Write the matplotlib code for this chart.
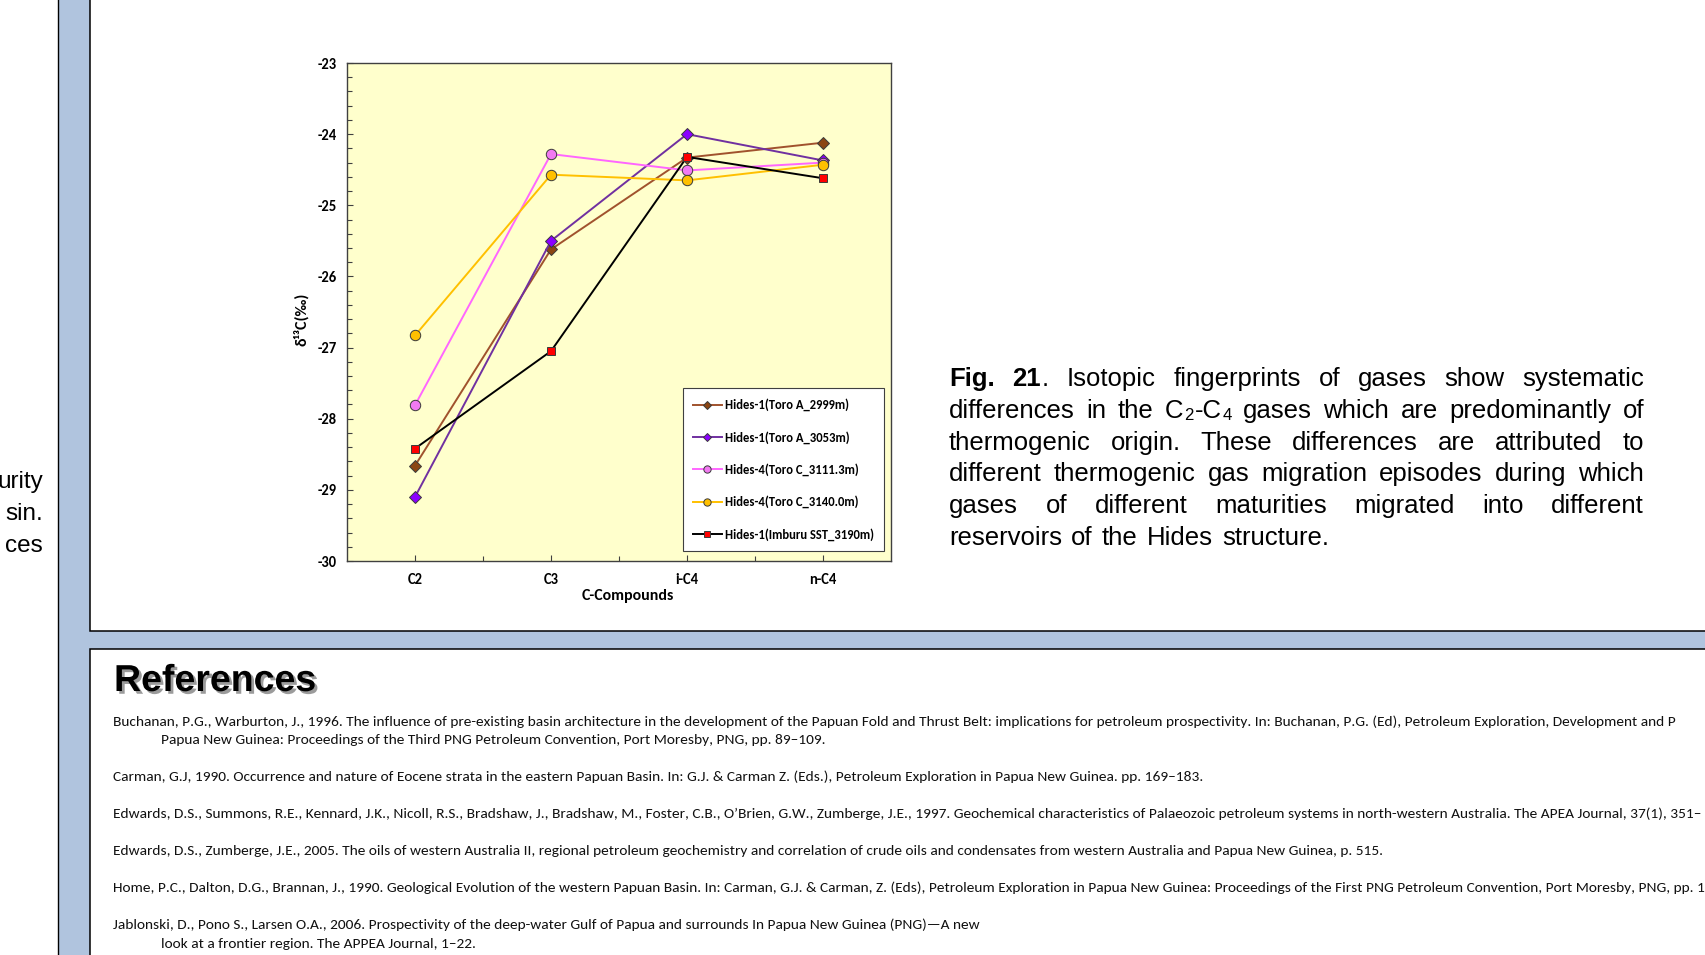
import matplotlib
matplotlib.use("Agg")
import matplotlib.pyplot as plt
import matplotlib.patheffects as pe
from matplotlib import font_manager as fm
from matplotlib.patches import Rectangle
from matplotlib.ticker import FixedLocator, MultipleLocator

W, H = 1705, 955  # canvas size in pixels

# gas isotope data, delta 13C (permil)
compounds = ['C2', 'C3', 'i-C4', 'n-C4']
series_labels = ['Hides-1(Toro A_2999m)', 'Hides-1(Toro A_3053m)',
                 'Hides-4(Toro C_3111.3m)', 'Hides-4(Toro C_3140.0m)',
                 'Hides-1(Imburu SST_3190m)']
toro_a_2999 = [-28.66, -25.62, -24.33, -24.12]
toro_a_3053 = [-29.10, -25.50, -24.00, -24.37]
toro_c_3111 = [-27.81, -24.28, -24.51, -24.40]
toro_c_3140 = [-26.83, -24.57, -24.65, -24.43]
imburu_3190 = [-28.42, -27.05, -24.32, -24.62]
yticks = [-30, -29, -28, -27, -26, -25, -24, -23]

left_words = ['urity', 'sin.', 'ces']

references = [
    ("Buchanan, P.G., Warburton, J., 1996. The influence of pre-existing basin architecture in the development of the "
     "Papuan Fold and Thrust Belt: implications for petroleum prospectivity. In: Buchanan, P.G. (Ed), Petroleum "
     "Exploration, Development and P", False),
    ("Papua New Guinea: Proceedings of the Third PNG Petroleum Convention, Port Moresby, PNG, pp. 89\u2013109.", True),
    ("Carman, G.J, 1990. Occurrence and nature of Eocene strata in the eastern Papuan Basin. In: G.J. & Carman Z. (Eds.), "
     "Petroleum Exploration in Papua New Guinea. pp. 169\u2013183.", False),
    ("Edwards, D.S., Summons, R.E., Kennard, J.K., Nicoll, R.S., Bradshaw, J., Bradshaw, M., Foster, C.B., O\u2019Brien, G.W., "
     "Zumberge, J.E., 1997. Geochemical characteristics of Palaeozoic petroleum systems in north-western Australia. "
     "The APEA Journal, 37(1), 351\u2013", False),
    ("Edwards, D.S., Zumberge, J.E., 2005. The oils of western Australia II, regional petroleum geochemistry and "
     "correlation of crude oils and condensates from western Australia and Papua New Guinea, p. 515.", False),
    ("Home, P.C., Dalton, D.G., Brannan, J., 1990. Geological Evolution of the western Papuan Basin. In: Carman, G.J. & "
     "Carman, Z. (Eds), Petroleum Exploration in Papua New Guinea: Proceedings of the First PNG Petroleum Convention, "
     "Port Moresby, PNG, pp. 1", False),
    ("Jablonski, D., Pono S., Larsen O.A., 2006. Prospectivity of the deep-water Gulf of Papua and surrounds In Papua "
     "New Guinea (PNG)\u2014A new", False),
    ("look at a frontier region. The APPEA Journal, 1\u201322.", True),
]
ref_baselines = [725.5, 743.5, 780.5, 817.5, 854.5, 891.5, 928.5, 948]


def words(s):
    return [[(w, 'r')] for w in s.split()]


caption = [
    [[('Fig.', 'b')], [('21', 'b'), ('.', 'r')]] + words("Isotopic fingerprints of gases show systematic"),
    words("differences in the") + [[('C', 'r'), ('2', 's'), ('-C', 'r'), ('4', 's')]]
    + words("gases which are predominantly of"),
    words("thermogenic origin. These differences are attributed to"),
    words("different thermogenic gas migration episodes during which"),
    words("gases of different maturities migrated into different"),
    words("reservoirs of the Hides structure."),
]

fonts = fm.fontManager.ttflist
names = {f.name for f in fonts}
calib = next((n for n in ['Carlito', 'Lato', 'Open Sans'] if n in names), 'DejaVu Sans')
bold_names = {f.name for f in fonts if f.weight in ('bold', 700) or str(f.weight) == '700'}
calib_bold = next((n for n in ['Carlito', 'Lato', 'Open Sans'] if n in bold_names), calib)
arial = 'Liberation Sans'
plt.rcParams['font.family'] = [calib, 'DejaVu Sans']
plt.rcParams['axes.unicode_minus'] = False

fig = plt.figure(figsize=(W / 100, H / 100), dpi=100)
fig.patch.set_facecolor('white')
renderer = fig.canvas.get_renderer()


def fx(x):
    return x / W


def fy(y):
    return 1 - y / H


# poster frame: blue gutter with two white panels
fig.add_artist(Rectangle((fx(58), -0.1), 2, 1.2, transform=fig.transFigure,
                         facecolor='#B0C4DE', edgecolor='black', lw=1.0, zorder=-10))
fig.add_artist(Rectangle((fx(90), fy(631)), 2, 1, transform=fig.transFigure,
                         facecolor='white', edgecolor='black', lw=1.1, zorder=-9))
fig.add_artist(Rectangle((fx(90), -0.5), 2, fy(649) + 0.5, transform=fig.transFigure,
                         facecolor='white', edgecolor='black', lw=1.1, zorder=-9))

# chart
ax = fig.add_axes([fx(347), fy(561), (891 - 347) / W, (561 - 63) / H])
ax.set_facecolor('#FFFFCC')
x = [1, 2, 3, 4]
styles = [
    (toro_a_2999, '#A0522D', 'D', '#8B4513', 6.5),
    (toro_a_3053, '#7030A0', 'D', '#8B00FF', 6.5),
    (toro_c_3111, '#FF66FF', 'o', '#F27AF2', 7.5),
    (toro_c_3140, '#FFC000', 'o', '#FFC000', 7.5),
    (imburu_3190, '#000000', 's', '#FF0000', 6.3),
]
for (vals, lc, mk, mf, ms), lab in zip(styles, series_labels):
    ax.plot(x, vals, color=lc, lw=1.4, marker=mk, ms=ms, mfc=mf, mec='#3a3a3a',
            mew=0.7, label=lab)

bold = {'family': [calib_bold, 'DejaVu Sans'], 'weight': 'bold'}
ax.set_xlim(0.5, 4.5)
ax.set_ylim(-30, -23)
ax.set_xticks(x, labels=compounds, fontsize=10.5, **bold)
ax.xaxis.set_minor_locator(FixedLocator([1.5, 2.5, 3.5]))
ax.set_yticks(yticks, labels=[str(v) for v in yticks], fontsize=10.5, **bold)
ax.yaxis.set_minor_locator(MultipleLocator(0.2))
ax.tick_params(which='both', direction='in', color='#404040', width=0.8)
ax.tick_params(which='major', length=4.5)
ax.tick_params(which='minor', length=3.5)
ax.tick_params(axis='y', which='major', pad=7.5)
ax.tick_params(axis='x', which='major', pad=8.5)
for sp in ax.spines.values():
    sp.set_color('#404040')
    sp.set_linewidth(1.0)

ax.set_xlabel('C-Compounds', fontsize=11.4, **bold)
ax.xaxis.set_label_coords((628 - 347) / 544, -(596 - 561) / 498)
ax.xaxis.label.set_va('center')
ax.set_ylabel('\u03b4\u00b9\u00b3C(\u2030)', fontsize=11.5, **bold)
ax.yaxis.set_label_coords((301 - 347) / 544, (561 - 319) / 498)
ax.yaxis.label.set_va('center')

leg = ax.legend(loc='lower right', bbox_to_anchor=((884 - 347) / 544, (561 - 551) / 498),
                borderaxespad=0, fancybox=False, framealpha=1, edgecolor='#404040',
                prop={'family': [calib_bold, 'DejaVu Sans'], 'weight': 'bold', 'size': 9.1},
                labelspacing=1.55, borderpad=0.8,
                handlelength=2.3, handletextpad=0.25, markerscale=0.7)
leg.get_frame().set_linewidth(0.8)

# caption, justified
cap_size = 18.5
cap_x0, cap_x1 = 949, 1645
for i, line in enumerate(caption):
    y = 386 + 31.8 * i
    arts = []
    for word in line:
        row = []
        for t, s in word:
            kw = dict(family=arial, fontsize=cap_size, va='baseline', ha='left')
            if s == 'b':
                kw['fontweight'] = 'bold'
            if s == 's':
                kw['fontsize'] = cap_size * 0.65
            row.append((fig.text(0, 0, t, **kw), s))
        arts.append(row)
    widths = [[a.get_window_extent(renderer).width + 1 for a, _ in row] for row in arts]
    total = sum(sum(w) for w in widths)
    if i < len(caption) - 1:
        gap = (cap_x1 - cap_x0 - total) / (len(arts) - 1)
    else:
        gap = 0.278 * cap_size * 100 / 72 + 1
    xp = cap_x0
    for row, ws in zip(arts, widths):
        xx = xp
        for (a, s), w in zip(row, ws):
            a.set_position((fx(xx), fy(y + (2 if s == 's' else 0))))
            xx += w
        xp += sum(ws) + gap

# line ends of the neighbouring column
for i, w in enumerate(left_words):
    fig.text(fx(43), fy(488 + 32 * i), w, family=arial, fontsize=17.5,
             ha='right', va='baseline')

# references
fig.text(fx(114), fy(691), 'References', family=arial, fontsize=27, fontweight='bold',
         va='baseline', ha='left',
         path_effects=[pe.SimplePatchShadow(offset=(2, -2), shadow_rgbFace='0.35', alpha=0.6),
                       pe.Normal()])

probe = fig.text(0, 0, references[2][0], fontsize=10, va='baseline')
ref_size = 10 * 1097 / probe.get_window_extent(renderer).width
probe.remove()
for (txt, indent), yb in zip(references, ref_baselines):
    fig.text(fx(161 if indent else 113), fy(yb), txt, fontsize=ref_size,
             va='baseline', ha='left', color='#111111')

fig.savefig('out.png', dpi=100)
